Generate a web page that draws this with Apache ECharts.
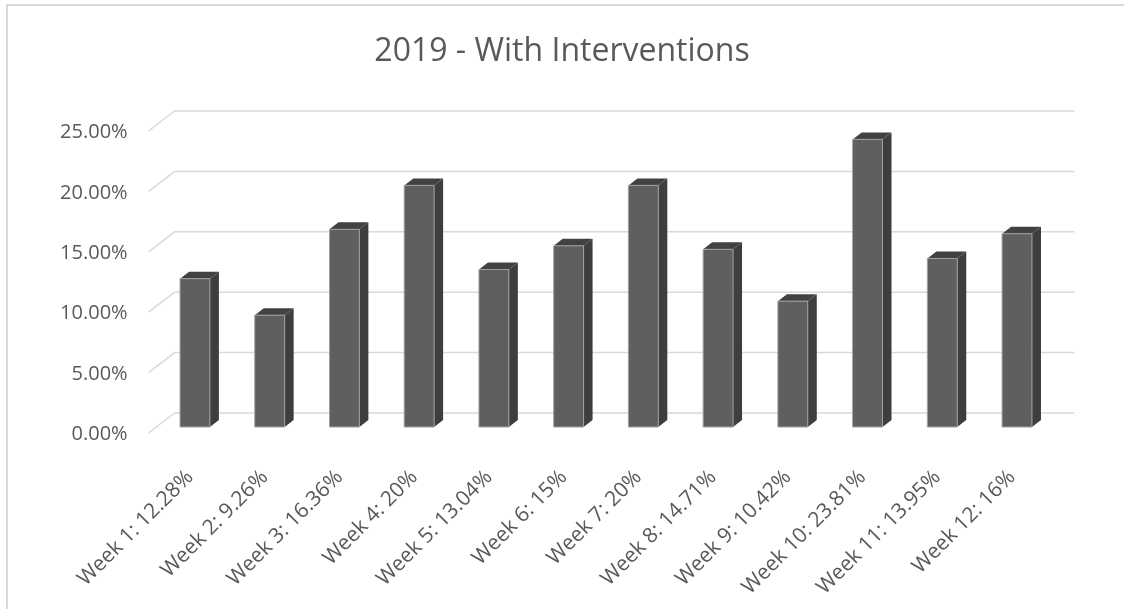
<!DOCTYPE html>
<html>
<head>
<meta charset="utf-8">
<script src="https://cdn.jsdelivr.net/npm/echarts@6/dist/echarts.min.js"></script>
<style>
  html, body { margin: 0; padding: 0; background: #fff; overflow: hidden; }
  #frame { position: absolute; left: 6px; top: 4px; width: 1300px; height: 800px; border: 2px solid #d9d9d9; }
  #chart { position: absolute; left: 0; top: 0; width: 1124px; height: 609px; }
</style>
</head>
<body>
<div id="frame"></div>
<div id="chart"></div>
<script>
const categories = [
  'Week 1: 12.28%', 'Week 2: 9.26%', 'Week 3: 16.36%', 'Week 4: 20%',
  'Week 5: 13.04%', 'Week 6: 15%', 'Week 7: 20%', 'Week 8: 14.71%',
  'Week 9: 10.42%', 'Week 10: 23.81%', 'Week 11: 13.95%', 'Week 12: 16%'
];
const values = [12.28, 9.26, 16.36, 20, 13.04, 15, 20, 14.71, 10.42, 23.81, 13.95, 16];
const yTicks = [0, 5, 10, 15, 20, 25];

const textColor = '#595959';
const fontFamily = '"Open Sans", sans-serif';

// back-wall gridlines with the slanted floor edge on the left
function renderGridLine(params, api) {
  const p = api.coord([0, api.value(1)]);
  const left = params.coordSys.x;
  const right = params.coordSys.x + params.coordSys.width;
  const yBack = p[1] - 14;
  return {
    type: 'polyline',
    silent: true,
    shape: { points: [[left - 9, p[1] + 6], [left + 17, yBack], [right + 20, yBack]] },
    style: { stroke: '#d9d9d9', lineWidth: 1.5, fill: null }
  };
}

// fake 3D column: front, side and top faces
function renderBar(params, api) {
  const i = api.value(0);
  const top = api.coord([i, api.value(1)]);
  const base = api.coord([i, 0]);
  const hw = api.size([1, 0])[0] * 0.2;
  const dx = 9, dy = 7;
  const x0 = top[0] - hw, x1 = top[0] + hw;
  return {
    type: 'group',
    children: [
      {
        type: 'polygon',
        shape: { points: [[x1, top[1]], [x1 + dx, top[1] - dy], [x1 + dx, base[1] - dy], [x1, base[1]]] },
        style: { fill: '#3e3e3e' }
      },
      {
        type: 'polygon',
        shape: { points: [[x0, top[1]], [x0 + dx, top[1] - dy], [x1 + dx, top[1] - dy], [x1, top[1]]] },
        style: { fill: '#424242' }
      },
      {
        type: 'rect',
        shape: { x: x0, y: top[1], width: hw * 2, height: base[1] - top[1] },
        style: { fill: '#5f5f5f', stroke: '#a0a0a0', lineWidth: 1 }
      }
    ]
  };
}

const chart = echarts.init(document.getElementById('chart'));

chart.setOption({
  animation: false,
  title: {
    text: '2019 - With Interventions',
    left: 'center',
    top: 31,
    textStyle: { fontFamily, fontSize: 32, fontWeight: 'normal', color: textColor }
  },
  grid: { left: 157.6, right: 69.6, top: 125, bottom: 182 },
  xAxis: {
    type: 'category',
    data: categories,
    axisLine: { show: false },
    axisTick: { show: false },
    axisLabel: {
      rotate: 45,
      margin: 42,
      interval: 0,
      formatter: v => '{t|' + v + '}',
      rich: {
        t: { color: textColor, fontFamily, fontSize: 21, padding: [0, 7, 0, 0] }
      }
    }
  },
  yAxis: {
    type: 'value',
    min: 0,
    max: 25,
    interval: 5,
    axisLine: { show: false },
    axisTick: { show: false },
    splitLine: { show: false },
    axisLabel: {
      margin: 30,
      formatter: v => '{t|' + v.toFixed(2) + '%}',
      rich: {
        t: { color: textColor, fontFamily, fontSize: 20, padding: [15, 0, 0, 0] }
      }
    }
  },
  series: [
    {
      type: 'custom',
      z: 1,
      renderItem: renderGridLine,
      data: yTicks.map(v => [0, v])
    },
    {
      type: 'custom',
      z: 2,
      renderItem: renderBar,
      data: values.map((v, i) => [i, v])
    }
  ]
});
</script>
</body>
</html>
